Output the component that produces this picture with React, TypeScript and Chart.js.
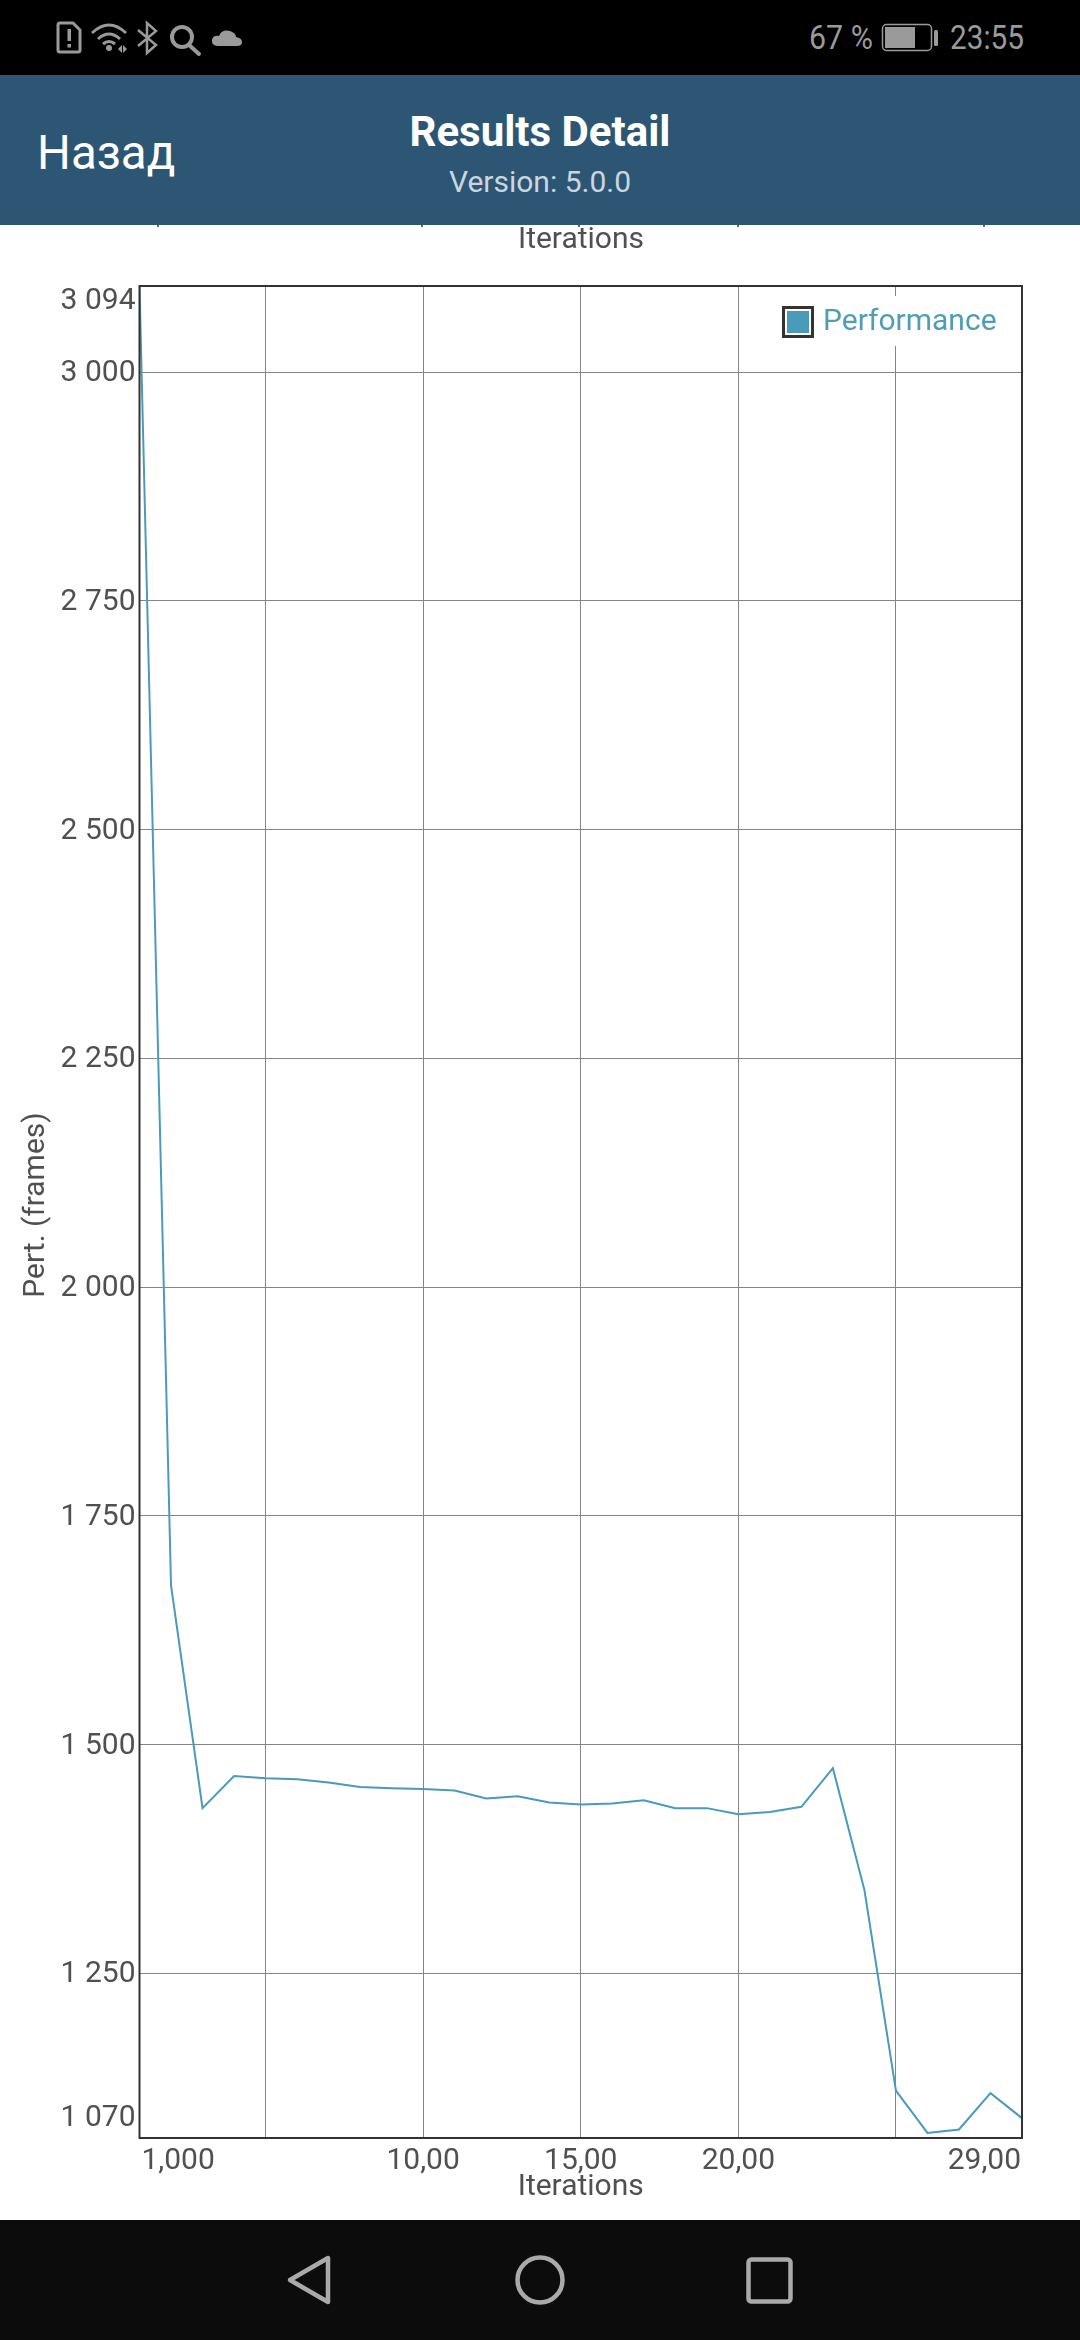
import React, { useEffect, useRef } from "react";
import { Chart, registerables } from "chart.js";

Chart.register(...registerables);

const iterations = [1, 2, 3, 4, 5, 6, 7, 8, 9, 10, 11, 12, 13, 14, 15, 16, 17, 18, 19, 20, 21, 22, 23, 24, 25, 26, 27, 28, 29];
const performance = [3094, 1674, 1430.5, 1465.7, 1463.2, 1462, 1458.5, 1453.7, 1452.3, 1451.5, 1449.8, 1441, 1443.6, 1436.6, 1434.5, 1435.6, 1439.2, 1430.5, 1430.5, 1423.9, 1426.4, 1431.9, 1474.1, 1341, 1121.8, 1075.6, 1079.3, 1119, 1091.7];
const yTickValues = [1070, 1250, 1500, 1750, 2000, 2250, 2500, 2750, 3000, 3094];
const xGridValues = [1, 5, 10, 15, 20, 25, 29];
const xTickLabels: Record<number, string> = { 1: "1,000", 10: "10,00", 15: "15,00", 20: "20,00", 29: "29,00" };
const seriesName = "Performance";
const xTitle = "Iterations";
const yTitle = "Pert. (frames)";

const FONT = "Roboto";
const TEXT = "#505050";
const LINE = "#4a9aba";
const DARK = "#333333";
const GRID = "#858585";

function formatThousands(v: number) {
  const s = String(v);
  return s.length > 3 ? s.slice(0, s.length - 3) + " " + s.slice(-3) : s;
}

function makeMarker() {
  const c = document.createElement("canvas");
  c.width = 32;
  c.height = 32;
  const g = c.getContext("2d")!;
  g.fillStyle = DARK;
  g.fillRect(0, 0, 32, 32);
  g.fillStyle = "#ffffff";
  g.fillRect(3, 3, 26, 26);
  g.fillStyle = LINE;
  g.fillRect(5, 5, 22, 22);
  return c;
}

const layoutPlugin = {
  id: "phoneLayout",
  afterLayout(chart: any) {
    const legend = chart.legend;
    const area = chart.chartArea;
    legend.left = area.right - 242;
    legend.top = area.top + 13;
    if (!legend.__wrapped) {
      legend.__wrapped = true;
      const drawLegend = legend.draw.bind(legend);
      legend.draw = () => {
        const ctx = chart.ctx;
        ctx.save();
        ctx.fillStyle = "#ffffff";
        ctx.fillRect(chart.chartArea.right - 245, chart.chartArea.top + 10, 225, 50);
        ctx.restore();
        drawLegend();
      };
      const y = chart.scales.y;
      const drawTitle = y.drawTitle.bind(y);
      y.drawTitle = () => {
        chart.ctx.save();
        chart.ctx.translate(0, -7);
        drawTitle();
        chart.ctx.restore();
      };
    }
  },
  beforeDraw(chart: any) {
    const yItems = chart.scales.y.getLabelItems(chart.chartArea);
    const xItems = chart.scales.x.getLabelItems(chart.chartArea);
    if (chart.__shifted) return;
    chart.__shifted = true;
    yItems.forEach((it: any) => {
      const [tx, ty] = it.options.translation;
      let dy = 1.5;
      if (it.label === "3 094") dy = 15;
      if (it.label === "1 070") dy = -20;
      it.options.translation = [tx, ty + dy];
    });
    xItems.forEach((it: any) => {
      const [tx, ty] = it.options.translation;
      let dx = 0;
      if (it.label === "1,000") dx = 2;
      if (it.label === "29,00") dx = -1;
      it.options.translation = [tx + dx, ty];
    });
  },
  afterDatasetsDraw(chart: any) {
    const { ctx, chartArea: a } = chart;
    ctx.save();
    ctx.strokeStyle = DARK;
    ctx.lineWidth = 2;
    ctx.strokeRect(a.left, a.top, a.right - a.left, a.bottom - a.top);
    ctx.restore();
  },
};

const box = (o: React.CSSProperties): React.CSSProperties => ({ position: "absolute", whiteSpace: "nowrap", ...o });

function StatusIcons() {
  const c = "#9a9a9a";
  return (
    <svg width={1080} height={75} style={{ position: "absolute", left: 0, top: 0 }}>
      <path d="M60 23 H73 L80 30 V50 Q80 52 78 52 H60 Q58 52 58 50 V25 Q58 23 60 23 Z" fill="none" stroke={c} strokeWidth={3} />
      <rect x={67.5} y={29} width={3.5} height={12} fill={c} />
      <rect x={67.5} y={44} width={3.5} height={3.5} fill={c} />
      <path d="M92 33 Q109 17 126 33 M98 39 Q109 29 120 39 M103 44 Q109 39 115 44" fill="none" stroke={c} strokeWidth={3} />
      <circle cx={109} cy={48} r={3} fill={c} />
      <path d="M118 49 l4 -4 v8 z M123 45 l4 4 l-4 4 z" fill={c} />
      <path d="M138 30 L156 45 L147 53 V23 L156 31 L138 46" fill="none" stroke={c} strokeWidth={2.5} />
      <circle cx={182} cy={37} r={10} fill="none" stroke={c} strokeWidth={4} />
      <line x1={189} y1={45} x2={199} y2={54} stroke={c} strokeWidth={4} strokeLinecap="round" />
      <path d="M217 46 Q211 45 212 40 Q213 35 219 36 Q222 29 230 31 Q236 33 236 37 Q242 38 242 42 Q242 46 237 46 Z" fill={c} />
      <rect x={882.5} y={24.5} width={49} height={26} rx={4} fill="none" stroke={c} strokeWidth={1.5} />
      <rect x={885} y={27} width={30} height={21} fill={c} />
      <rect x={934} y={30} width={4} height={16} rx={1.5} fill={c} />
    </svg>
  );
}

function NavIcons() {
  const c = "#aaaaaa";
  return (
    <svg width={1080} height={120} style={{ position: "absolute", left: 0, top: 0 }}>
      <path d="M290 60 L328 38 V82 Z" fill="none" stroke={c} strokeWidth={4.5} strokeLinejoin="round" />
      <circle cx={540} cy={60} r={22.5} fill="none" stroke={c} strokeWidth={4.5} />
      <rect x={748.5} y={39.5} width={42} height={42} rx={3} fill="none" stroke={c} strokeWidth={4.5} />
    </svg>
  );
}

export default function App() {
  const ref = useRef<HTMLCanvasElement>(null);

  useEffect(() => {
    document.body.style.margin = "0";
    const marker = makeMarker();
    const chart = new Chart(ref.current!, {
      type: "line",
      data: {
        datasets: [
          {
            label: seriesName,
            data: iterations.map((x, i) => ({ x, y: performance[i] })),
            borderColor: LINE,
            backgroundColor: LINE,
            borderWidth: 2,
            pointRadius: 0,
            tension: 0,
          },
        ],
      },
      options: {
        animation: false,
        responsive: false,
        layout: { padding: { left: 0, right: 58, top: 286, bottom: 135 } },
        plugins: {
          tooltip: { enabled: false },
          legend: {
            position: "chartArea" as any,
            align: "start",
            labels: {
              usePointStyle: true,
              pointStyleWidth: 20,
              padding: 8,
              font: { family: FONT, size: 30 },
              color: LINE,
              generateLabels: () => [
                { text: seriesName, fillStyle: LINE, strokeStyle: DARK, lineWidth: 0, pointStyle: marker, fontColor: "#4f9db9", datasetIndex: 0, hidden: false },
              ],
            },
          },
        },
        scales: {
          x: {
            type: "linear",
            min: 1,
            max: 29,
            afterBuildTicks: (s: any) => {
              s.ticks = xGridValues.map((value) => ({ value }));
            },
            afterFit: (s: any) => {
              s.height = 67;
            },
            grid: { color: GRID, lineWidth: 1, drawTicks: false },
            border: { display: false },
            ticks: {
              autoSkip: false,
              maxRotation: 0,
              minRotation: 0,
              align: "inner",
              padding: 5,
              color: TEXT,
              font: { family: FONT, size: 30 },
              callback: (v: any) => xTickLabels[v] ?? "",
            },
            title: { display: true, text: xTitle, color: TEXT, padding: 0, font: { family: FONT, size: 30 } },
          },
          y: {
            type: "linear",
            min: 1070,
            max: 3094,
            afterBuildTicks: (s: any) => {
              s.ticks = yTickValues.map((value) => ({ value }));
            },
            afterFit: (s: any) => {
              s.width = 139.5;
            },
            grid: { color: GRID, lineWidth: 1, drawTicks: false },
            border: { display: false },
            ticks: {
              autoSkip: false,
              padding: 4,
              color: TEXT,
              font: { family: FONT, size: 30 },
              callback: (v: any) => formatThousands(v),
            },
            title: { display: true, text: yTitle, color: TEXT, padding: { top: 18, bottom: 0 }, font: { family: FONT, size: 30 } },
          },
        },
      },
      plugins: [layoutPlugin],
    } as any);
    return () => chart.destroy();
  }, []);

  return (
    <div style={{ position: "relative", width: 1080, height: 2340, overflow: "hidden", background: "#ffffff", fontFamily: FONT }}>
      <canvas ref={ref} width={1080} height={2340} style={{ position: "absolute", left: 0, top: 0, display: "block" }} />

      <div style={box({ left: 0, top: 227, width: 1162, textAlign: "center", fontSize: 30, lineHeight: "21px", color: TEXT })}>{xTitle}</div>
      {[157, 421, 578, 737, 983].map((x) => (
        <div key={x} style={box({ left: x, top: 225, width: 2, height: 2, background: "#666" })} />
      ))}

      <div style={box({ left: 0, top: 0, width: 1080, height: 75, background: "#000" })}>
        <StatusIcons />
        <div style={box({ left: 809, top: 18, fontSize: 33, lineHeight: "40px", color: "#9a9a9a", transform: "scaleX(0.92)", transformOrigin: "left" })}>67 %</div>
        <div style={box({ left: 950, top: 18, fontSize: 33, lineHeight: "40px", color: "#9a9a9a", transform: "scaleX(0.9)", transformOrigin: "left" })}>23:55</div>
      </div>

      <div style={box({ left: 0, top: 75, width: 1080, height: 150, background: "#2c5674" })}>
        <div style={box({ left: 37, top: 50, fontSize: 47.5, lineHeight: "56px", color: "#fff" })}>Назад</div>
        <div style={box({ left: 0, top: 32, width: 1080, textAlign: "center", fontSize: 42, lineHeight: "50px", fontWeight: 700, color: "#fff" })}>Results Detail</div>
        <div style={box({ left: 0, top: 89, width: 1080, textAlign: "center", fontSize: 30, lineHeight: "36px", color: "#c9d6e0" })}>Version: 5.0.0</div>
      </div>

      <div style={box({ left: 0, top: 2220, width: 1080, height: 120, background: "#0c0c0c" })}>
        <NavIcons />
      </div>
    </div>
  );
}
